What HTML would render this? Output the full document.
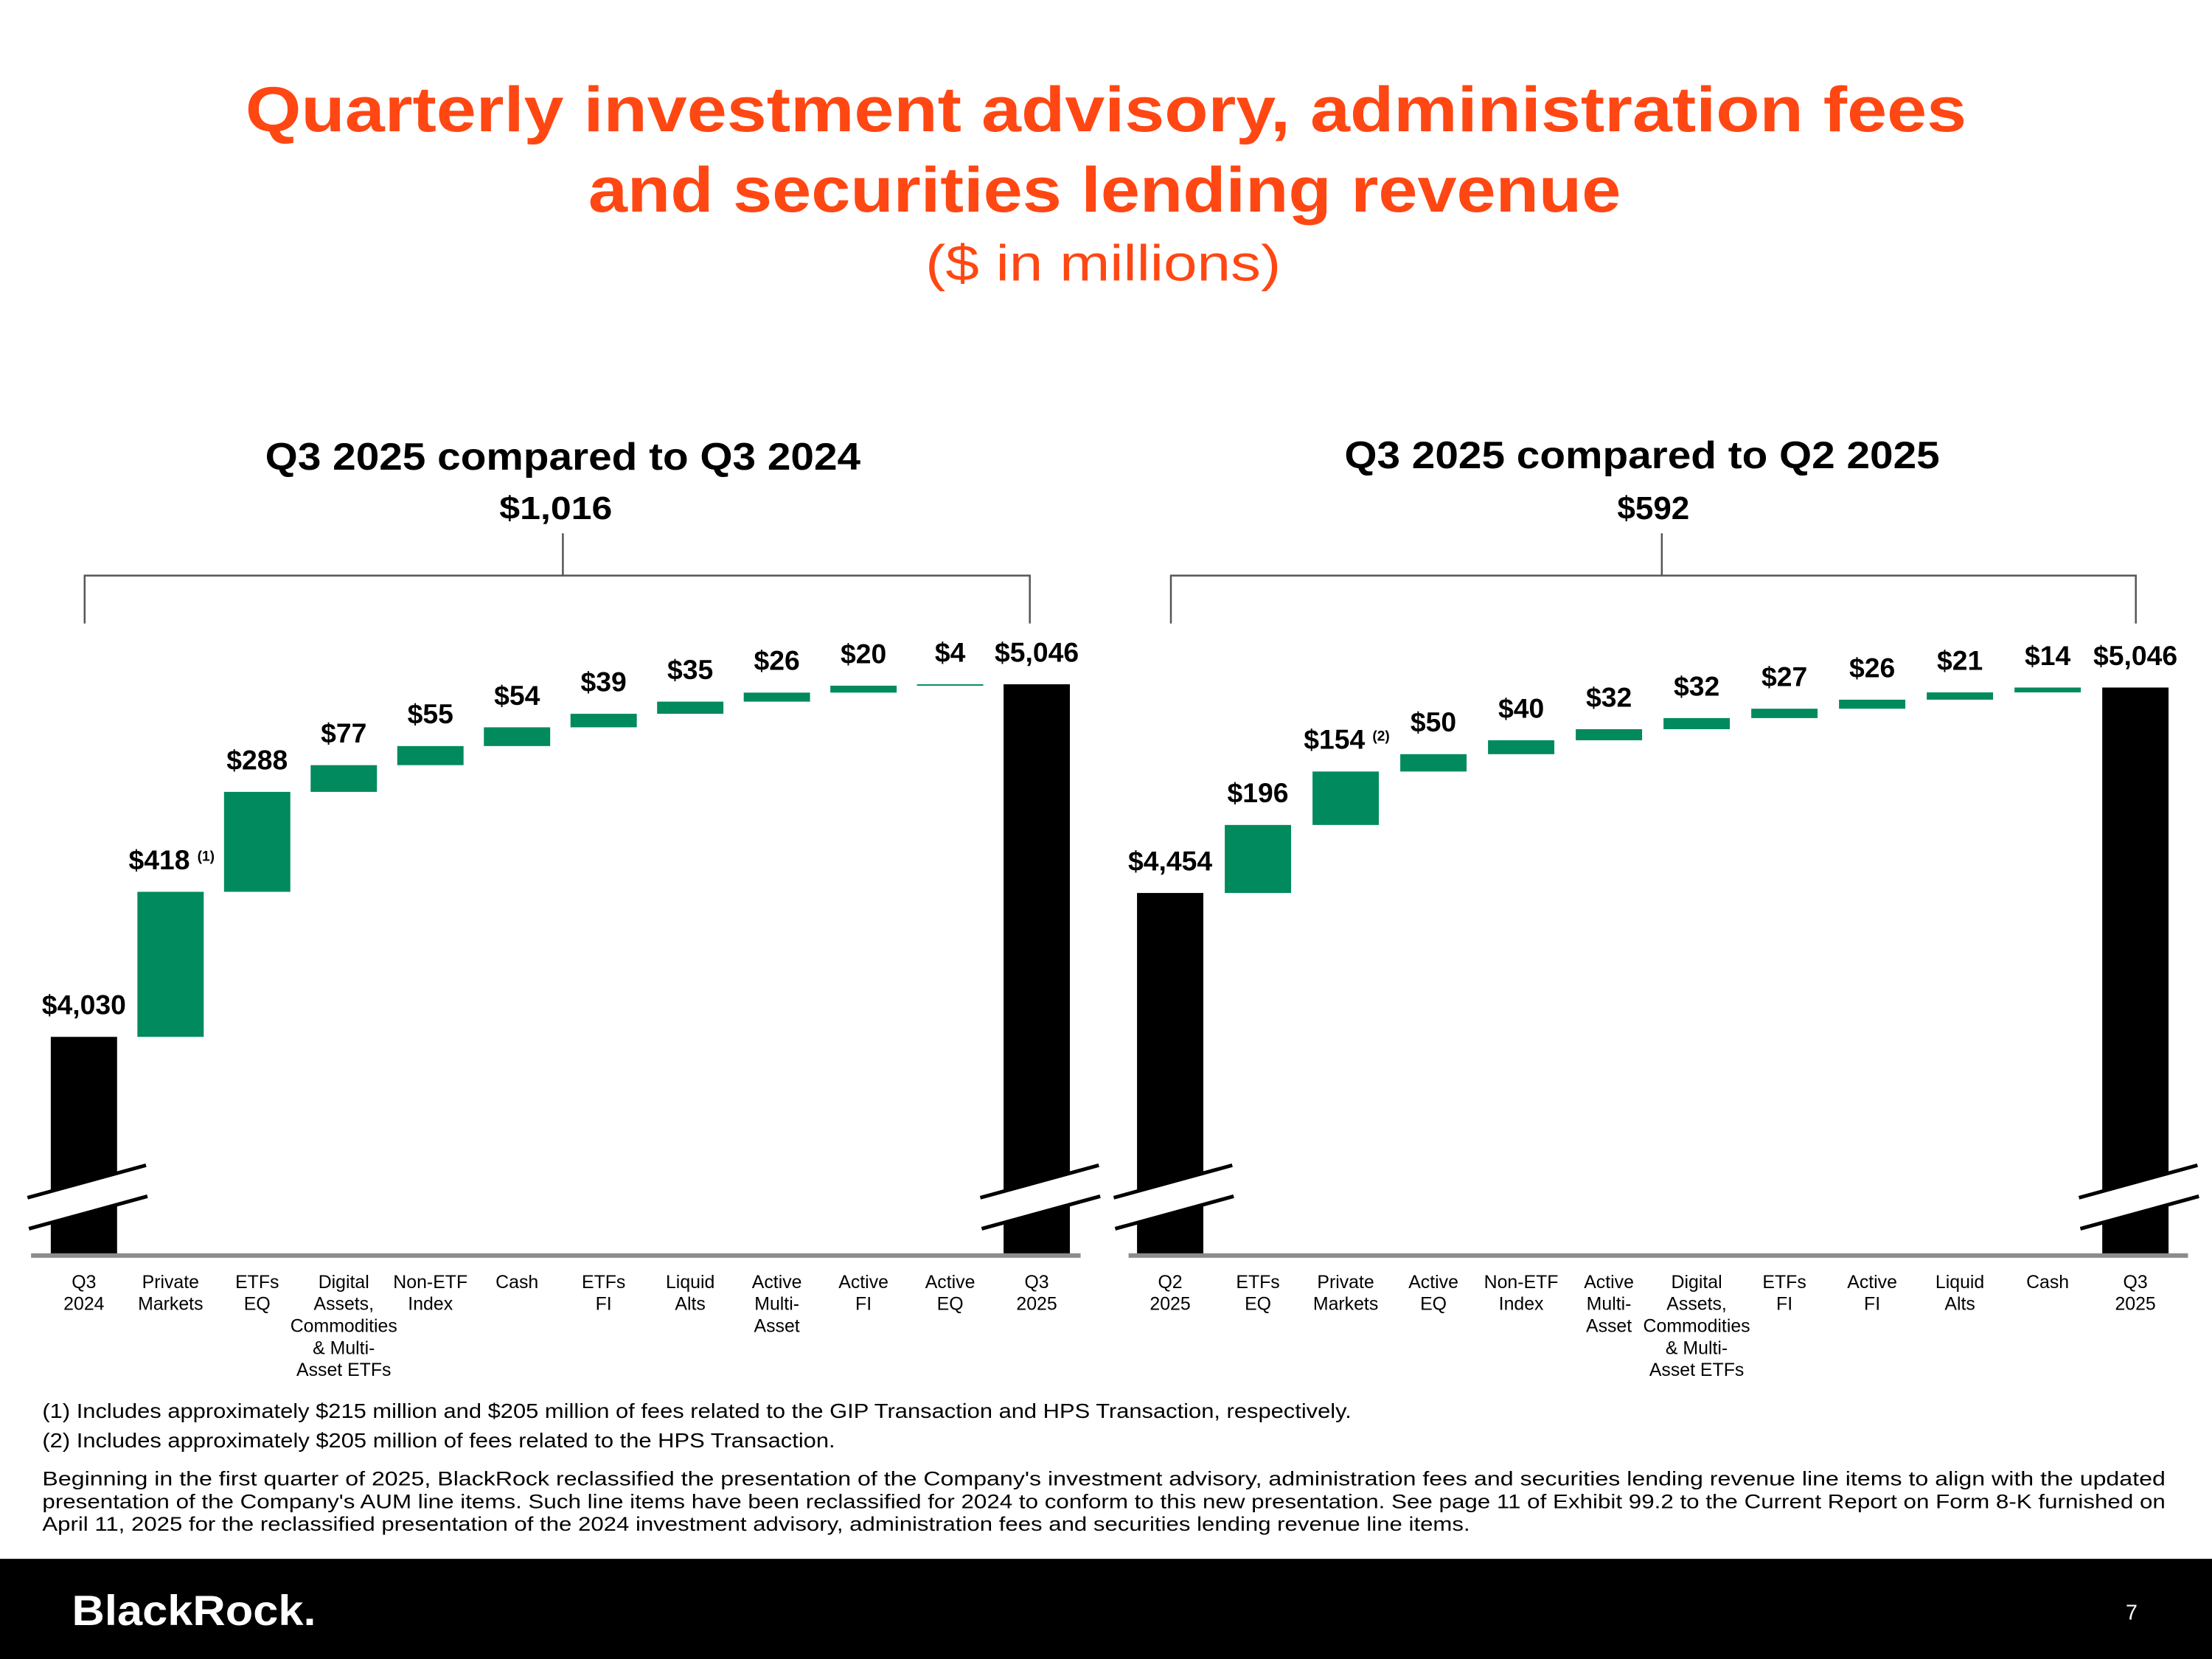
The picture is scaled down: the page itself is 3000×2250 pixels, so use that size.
<!DOCTYPE html>
<html><head><meta charset="utf-8"><style>
html,body{margin:0;padding:0;background:#fff}
svg{display:block}
text{font-family:"Liberation Sans",sans-serif}
</style></head><body>
<svg id="s" width="3000" height="2250" viewBox="0 0 1568 1176" xmlns="http://www.w3.org/2000/svg">
<text x="784" y="93" text-anchor="middle" font-size="45" font-weight="bold" fill="#FF4713" textLength="1220" lengthAdjust="spacingAndGlyphs">Quarterly investment advisory, administration fees</text>
<text x="783" y="150" text-anchor="middle" font-size="45" font-weight="bold" fill="#FF4713" textLength="732" lengthAdjust="spacingAndGlyphs">and securities lending revenue</text>
<text x="782" y="199" text-anchor="middle" font-size="36" fill="#FF4713" textLength="252" lengthAdjust="spacingAndGlyphs">($ in millions)</text>

<text x="399" y="333" text-anchor="middle" font-size="27" font-weight="bold" textLength="422" lengthAdjust="spacingAndGlyphs">Q3 2025 compared to Q3 2024</text>
<text x="394" y="368" text-anchor="middle" font-size="23" font-weight="bold" textLength="80" lengthAdjust="spacingAndGlyphs">$1,016</text>
<path d="M60 442V408H730V442M399 408V378" fill="none" stroke="#555" stroke-width="1.3"/>

<text x="1164" y="332" text-anchor="middle" font-size="27" font-weight="bold" textLength="422" lengthAdjust="spacingAndGlyphs">Q3 2025 compared to Q2 2025</text>
<text x="1172" y="368" text-anchor="middle" font-size="23" font-weight="bold">$592</text>
<path d="M830 442V408H1514V442M1178 408V378" fill="none" stroke="#555" stroke-width="1.3"/>

<g id="charts"></g>

<g font-size="14.5" fill="#000">
<text x="30" y="1005" textLength="928" lengthAdjust="spacingAndGlyphs">(1) Includes approximately $215 million and $205 million of fees related to the GIP Transaction and HPS Transaction, respectively.</text>
<text x="30" y="1026" textLength="562" lengthAdjust="spacingAndGlyphs">(2) Includes approximately $205 million of fees related to the HPS Transaction.</text>
<text x="30" y="1053" font-size="14.2" textLength="1505" lengthAdjust="spacingAndGlyphs">Beginning in the first quarter of 2025, BlackRock reclassified the presentation of the Company's investment advisory, administration fees and securities lending revenue line items to align with the updated</text>
<text x="30" y="1069" font-size="14.2" textLength="1505" lengthAdjust="spacingAndGlyphs">presentation of the Company's AUM line items. Such line items have been reclassified for 2024 to conform to this new presentation. See page 11 of Exhibit 99.2 to the Current Report on Form 8-K furnished on</text>
<text x="30" y="1085" font-size="14.2" textLength="1012" lengthAdjust="spacingAndGlyphs">April 11, 2025 for the reclassified presentation of the 2024 investment advisory, administration fees and securities lending revenue line items.</text>
</g>
<rect x="0" y="1105" width="1568" height="71" fill="#000"/>
<text x="51" y="1152" font-size="30" font-weight="bold" fill="#fff" textLength="173" lengthAdjust="spacingAndGlyphs">BlackRock.</text>
<text x="1511" y="1148" font-size="15" fill="#fff" text-anchor="middle">7</text>
</svg>
<script>
const leftCategories = [["Q3","2024"],["Private","Markets"],["ETFs","EQ"],["Digital","Assets,","Commodities","& Multi-","Asset ETFs"],["Non-ETF","Index"],["Cash"],["ETFs","FI"],["Liquid","Alts"],["Active","Multi-","Asset"],["Active","FI"],["Active","EQ"],["Q3","2025"]];
const leftStart = 4030;
const leftDeltas = [418,288,77,55,54,39,35,26,20,4];
const leftEnd = 5046;
const leftNotes = ["(1)","","","","","","","","",""];

const rightCategories = [["Q2","2025"],["ETFs","EQ"],["Private","Markets"],["Active","EQ"],["Non-ETF","Index"],["Active","Multi-","Asset"],["Digital","Assets,","Commodities","& Multi-","Asset ETFs"],["ETFs","FI"],["Active","FI"],["Liquid","Alts"],["Cash"],["Q3","2025"]];
const rightStart = 4454;
const rightDeltas = [196,154,50,40,32,32,27,26,21,14];
const rightEnd = 5046;
const rightNotes = ["","(2)","","","","","","","",""];

const NS="http://www.w3.org/2000/svg";
const root=document.getElementById('charts');
function mk(tag,attrs,parent){const e=document.createElementNS(NS,tag);for(const k in attrs)e.setAttribute(k,attrs[k]);(parent||root).appendChild(e);return e;}
function fmt(v){return '$'+v.toLocaleString('en-US');}

function drawChart(side,cats,start,deltas,end,notes,x0,step,yRefVal,yRefPx,axisX1,axisX2){
  const ppu=0.246;
  const y=v=>yRefPx-(v-yRefVal)*ppu;
  const xc=i=>x0+i*step;
  const base=890, bw=47;
  const g=mk('g',{});
  
  
  function label(i,top,v,note){
    const t=mk('text',{x:xc(i)-(note?8:0),y:top-16,'text-anchor':'middle','font-size':19.5,'font-weight':'bold'},g);
    t.textContent=fmt(v);
    
    
    if(note){const n=mk('text',{x:xc(i)+19,y:top-22,'font-size':10,'font-weight':'bold'},g);n.textContent=note;
      
      }
  }
  function brk(i){
    const c=xc(i);
    mk('polygon',{points:`${c-40},849 ${c+44},826 ${c+44},848 ${c-40},871`,fill:'#fff'},g);
    const l1=mk('line',{x1:c-40,y1:849,x2:c+44,y2:826,stroke:'#000','stroke-width':2.6},g);
    
    
    mk('line',{x1:c-39,y1:871,x2:c+45,y2:848,stroke:'#000','stroke-width':2.6},g);
  }
  let r=mk('rect',{x:xc(0)-bw/2,y:y(start),width:bw,height:base-y(start),fill:'#000'},g);
  
  
  label(0,y(start),start,'');
  let cum=start;
  deltas.forEach((d,k)=>{
    const i=k+1;const top=y(cum+d),bot=y(cum);
    const b=mk('rect',{x:xc(i)-bw/2,y:top,width:bw,height:Math.max(bot-top,1),fill:'#008A5E'},g);
    
    
    label(i,top,d,notes[k]);
    cum+=d;
  });
  const li=cats.length-1;
  r=mk('rect',{x:xc(li)-bw/2,y:y(end),width:bw,height:base-y(end),fill:'#000'},g);
  
  
  label(li,y(end),end,'');
  brk(0);brk(li);
  const ax=mk('line',{x1:axisX1,y1:890,x2:axisX2,y2:890,stroke:'#8c8c8c','stroke-width':3.2},g);
  
  
  cats.forEach((lines,i)=>{
    const t=mk('text',{x:xc(i),y:913,'text-anchor':'middle','font-size':13},g);
    
    
    lines.forEach((s,j)=>{const ts=mk('tspan',{x:xc(i),dy:j?15.6:0},t);ts.textContent=s;});
  });
}
drawChart('left',leftCategories,leftStart,leftDeltas,leftEnd,leftNotes,59.5,61.4,4030,735,22,766);
drawChart('right',rightCategories,rightStart,rightDeltas,rightEnd,rightNotes,829.5,62.2,4454,633,800,1551);
</script>
</body></html>
